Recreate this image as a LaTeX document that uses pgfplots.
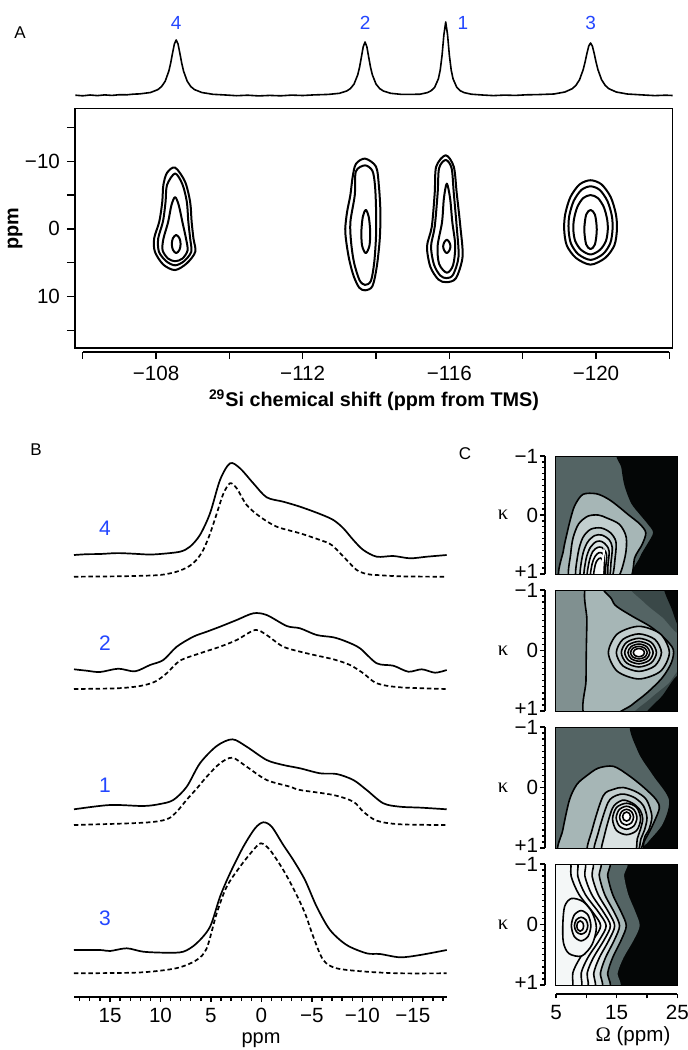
\documentclass[border=0pt]{standalone}
\usepackage{fontspec}
\setmainfont{Liberation Sans}
\newfontfamily\grk{Liberation Serif}
\usepackage{pgfplots}
\pgfplotsset{compat=1.18}

\definecolor{lblue}{RGB}{35,70,255}
\definecolor{cblack}{RGB}{4,6,6}
\definecolor{cdark}{RGB}{58,72,72}
\definecolor{cmed}{RGB}{84,100,100}
\definecolor{cmid}{RGB}{128,144,144}
\definecolor{clight}{RGB}{166,182,182}
\definecolor{clighter}{RGB}{194,206,206}
\definecolor{cpale}{RGB}{218,226,226}
\definecolor{cwhite}{RGB}{244,247,247}

\pgfplotsset{
  base/.style={scale only axis, anchor=north west,
    tick label style={font=\fontsize{10.3}{12}\selectfont},
    every tick/.style={black, line width=0.65pt},
    axis line style={line width=0.8pt},
    tick align=outside},
  cont/.style={black, line width=1pt, smooth cycle, line join=round},
  spec/.style={black, line width=0.85pt, smooth, tension=0.5, line join=round},
  dspec/.style={black, line width=0.85pt, smooth, tension=0.5, dash pattern=on 2.2pt off 1.4pt},
  cbox/.style={base, width=61pt, height=60.5pt, xmin=5, xmax=25, ymin=-1, ymax=1,
    y dir=reverse, xtick=\empty, ytick=\empty, clip=true,
    axis line style={line width=0.5pt}, axis on top},
  kax/.style={base, width=4pt, height=60.5pt, xmin=0, xmax=1, ymin=-1, ymax=1,
    y dir=reverse, axis y line*=left, axis x line=none,
    ytick={-1,0,1},
    yticklabels={\raisebox{-2.4pt}{−1},0,\raisebox{2.4pt}{+1}},
    yticklabel style={inner sep=0.6pt},
    minor y tick num=9,
    major tick length=2.6pt, minor tick length=1.6pt},
  cl/.style={black, line width=0.8pt, smooth cycle},
}
\tikzset{
  numlbl/.style={text=lblue, font=\fontsize{9.5}{11}\selectfont},
  numlblB/.style={text=lblue, font=\fontsize{10.5}{12}\selectfont},
  panel/.style={font=\fontsize{8.5}{10}\selectfont},
}

\begin{document}
\begin{tikzpicture}
\path[use as bounding box] (0,0) rectangle (343.5pt,-525pt);

% ===================== Panel A: projection =====================
\begin{axis}[base, at={(37.5pt,-5pt)}, width=298.85pt, height=48pt,
  xmin=-122.09, xmax=-105.79, x dir=reverse, ymin=-10, ymax=86,
  hide axis, clip=false]
\addplot[black, line width=0.8pt, line join=round] coordinates {
(-105.80,0.8) (-106.00,0.2) (-106.20,1.0) (-106.40,0.4) (-106.60,1.1)
(-106.80,0.6) (-107.00,1.3) (-107.20,1.2) (-107.40,1.9) (-107.55,2.1)
(-107.85,3.5) (-108.05,6.4) (-108.15,9.4) (-108.25,14.8) (-108.35,25)
(-108.40,33) (-108.45,42.8) (-108.50,52) (-108.55,56) (-108.60,52)
(-108.65,42.8) (-108.70,33) (-108.75,25) (-108.85,14.8) (-108.95,9.4)
(-109.05,6.4) (-109.25,3.5) (-109.55,1.7) (-109.90,1.0) (-110.20,0.3)
(-110.50,0.8) (-110.80,0.1) (-111.10,0.6) (-111.40,0.2) (-111.70,0.9)
(-112.00,0.5) (-112.30,1.1) (-112.70,1.6) (-113.00,2.7) (-113.20,5.0)
(-113.30,7.4) (-113.40,11.9) (-113.50,21.1) (-113.55,28.7) (-113.60,38.8)
(-113.65,49.2) (-113.70,54) (-113.75,49.2) (-113.80,38.8) (-113.85,28.7)
(-113.90,21.1) (-114.00,11.9) (-114.10,7.4) (-114.20,5.0) (-114.40,2.7)
(-114.70,1.6) (-114.90,1.6) (-115.20,1.8) (-115.40,3.4) (-115.50,5.2)
(-115.60,8.8) (-115.70,17.2) (-115.75,25.9) (-115.80,40.5) (-115.85,61.3)
(-115.90,74) (-115.95,61.3) (-116.00,40.5) (-116.05,25.9) (-116.10,17.2)
(-116.20,8.8) (-116.30,5.2) (-116.40,3.4) (-116.60,1.8) (-116.90,1.0)
(-117.20,0.4) (-117.50,0.9) (-117.80,0.6) (-118.10,1.2) (-118.40,1.4)
(-118.85,2.0) (-119.15,4.0) (-119.35,7.3) (-119.45,10.6) (-119.55,16.3)
(-119.65,26.5) (-119.70,33.9) (-119.75,42.4) (-119.80,49.9) (-119.85,53)
(-119.90,49.9) (-119.95,42.4) (-120.00,33.9) (-120.05,26.5) (-120.15,16.3)
(-120.25,10.6) (-120.35,7.3) (-120.55,4.0) (-120.85,2.0) (-121.35,0.9)
(-121.60,0.4) (-121.90,0.8) (-122.09,0.5)};
\node[numlbl] at (axis cs:-108.55,73.3) {4};
\node[numlbl] at (axis cs:-113.70,73.3) {2};
\node[numlbl] at (axis cs:-116.37,73.3) {1};
\node[numlbl] at (axis cs:-119.85,73.3) {3};
\end{axis}

% ===================== Panel A: 2D correlation =====================
\begin{axis}[base, at={(37.5pt,-54.15pt)}, width=298.85pt, height=119.7pt,
  xmin=-122.09, xmax=-105.79, x dir=reverse,
  ymin=-17.85, ymax=17.6, y dir=reverse,
  xtick=\empty, ytick={-15,-10,...,15}, yticklabels={,−10,,0,,10,},
  ytick pos=left, major tick length=4pt]
% site 4
\addplot[cont] coordinates {(-108.52,-9.07) (-108.79,-7.0) (-108.93,-4.0) (-108.97,-1.1) (-109.02,1.4) (-109.07,3.4) (-108.84,5.1) (-108.52,6.1) (-108.2,5.3) (-107.97,3.4) (-107.95,1.4) (-108.09,-1.1) (-108.17,-4.0) (-108.2,-6.5) (-108.3,-8.3)};
\addplot[cont] coordinates {(-108.52,-8.2) (-108.72,-6.6) (-108.84,-4) (-108.88,-1.1) (-108.93,1.4) (-108.96,3.4) (-108.76,4.8) (-108.52,5.4) (-108.28,4.8) (-108.08,3.4) (-108.06,1.4) (-108.19,-1.1) (-108.26,-4) (-108.30,-6.5)};
\addplot[cont] coordinates {(-108.52,-4.7) (-108.62,-3.5) (-108.72,-1) (-108.82,1.5) (-108.86,3.2) (-108.72,4.4) (-108.52,4.8) (-108.33,4.4) (-108.18,3.2) (-108.2,1.5) (-108.33,-1) (-108.42,-3.5)};
\addplot[cont] coordinates {(-108.55,0.9) (-108.64,1.4) (-108.67,2.25) (-108.64,3.1) (-108.55,3.6) (-108.46,3.1) (-108.43,2.25) (-108.46,1.4)};
% site 2
\addplot[cont] coordinates {(-113.70,-10.4) (-114.0,-9.2) (-114.08,-6.2) (-114.12,-2.3) (-114.1,1.6) (-114.02,5.6) (-113.9,8.5) (-113.70,9.1) (-113.54,8.7) (-113.39,7.0) (-113.27,4.6) (-113.19,2.0) (-113.16,0) (-113.21,-2.5) (-113.3,-5.0) (-113.36,-7.6) (-113.45,-9.6)};
\addplot[cont] coordinates {(-113.70,-9.4) (-113.9,-8.6) (-113.97,-6.5) (-114.0,-3) (-114.0,1) (-113.95,5) (-113.86,7.7) (-113.70,8.3) (-113.55,7.6) (-113.4,5) (-113.32,2) (-113.3,-1) (-113.42,-5) (-113.45,-8.5)};
\addplot[cont] coordinates {(-113.72,-2.8) (-113.80,-1.8) (-113.84,0.4) (-113.82,2.5) (-113.72,3.6) (-113.62,2.5) (-113.60,0.4) (-113.64,-1.8)};
% site 1
\addplot[cont] coordinates {(-115.9,-10.9) (-116.12,-9.2) (-116.2,-5.3) (-116.3,-0.3) (-116.36,4.1) (-116.18,7.3) (-115.92,7.9) (-115.7,7.5) (-115.48,5.6) (-115.39,2.6) (-115.52,-0.3) (-115.6,-5.3) (-115.64,-9.2)};
\addplot[cont] coordinates {(-115.9,-10.2) (-116.06,-9.0) (-116.12,-5.3) (-116.2,-0.3) (-116.25,4.1) (-116.1,6.8) (-115.92,7.3) (-115.75,6.9) (-115.58,5.3) (-115.5,2.6) (-115.6,-0.3) (-115.68,-5.3) (-115.72,-9.0)};
\addplot[cont] coordinates {(-115.93,-6.7) (-116.02,-4.5) (-116.08,-1) (-116.16,2.5) (-116.1,5.4) (-115.93,6.5) (-115.72,5.2) (-115.68,2.5) (-115.8,-1) (-115.85,-4.5)};
\addplot[cont] coordinates {(-115.93,1.6) (-116.0,2.0) (-116.03,2.6) (-116.0,3.2) (-115.93,3.6) (-115.86,3.2) (-115.83,2.6) (-115.86,2.0)};
% site 3
\addplot[cont] coordinates {(-119.85,-7.2) (-120.15,-6.58) (-120.40,-4.70) (-120.54,-2.20) (-120.57,0.05) (-120.50,2.43) (-120.25,4.30) (-119.85,5.30) (-119.45,4.30) (-119.20,2.43) (-119.13,0.05) (-119.16,-2.20) (-119.30,-4.70) (-119.55,-6.58)};
\addplot[cont] coordinates {(-119.85,-6.3) (-120.10,-5.76) (-120.31,-4.12) (-120.43,-1.94) (-120.45,0.02) (-120.39,2.09) (-120.19,3.73) (-119.85,4.6) (-119.51,3.73) (-119.31,2.09) (-119.25,0.02) (-119.27,-1.94) (-119.39,-4.12) (-119.60,-5.76)};
\addplot[cont] coordinates {(-119.85,-5.0) (-120.05,-4.56) (-120.21,-3.24) (-120.30,-1.48) (-120.32,0.10) (-120.27,1.78) (-120.11,3.10) (-119.85,3.8) (-119.59,3.10) (-119.43,1.78) (-119.38,0.10) (-119.40,-1.48) (-119.49,-3.24) (-119.65,-4.56)};
\addplot[cont] coordinates {(-119.85,-2.8) (-119.97,-2.1) (-120.02,0.1) (-119.97,2.3) (-119.85,3.0) (-119.73,2.3) (-119.68,0.1) (-119.73,-2.1)};
\end{axis}

% x axis of the 2D map
\begin{axis}[base, anchor=south west, at={(41.35pt,-175.85pt)}, width=293.3pt, height=10pt,
  xmin=-122, xmax=-106, x dir=reverse, ymin=0, ymax=1,
  axis x line*=bottom, axis y line=none,
  xtick={-122,-120,...,-106}, xticklabels={,−120,,−116,,−112,,−108,},
  major tick length=3.5pt]
\end{axis}

\node[panel] at (10pt,-16.5pt) {A};
\node[rotate=90, font=\bfseries\fontsize{9.9}{11}\selectfont] at (7.5pt,-114.5pt) {ppm};
\node[font=\bfseries\fontsize{9.9}{11}\selectfont] at (187pt,-200pt) {\textsuperscript{29}Si chemical shift (ppm from TMS)};

% ===================== Panel B: slices =====================
\begin{axis}[base, anchor=south west, at={(37pt,-498.35pt)}, width=186.35pt, height=275pt,
  xmin=-18.36, xmax=18.57, x dir=reverse, ymin=0, ymax=550,
  axis x line*=bottom, axis y line=none, clip=false,
  xtick={-15,-10,...,15}, xticklabels={−15,−10,−5,0,5,10,15},
  minor xtick={-18,-17,...,18},
  major tick length=2.4pt, minor tick length=2.2pt]
% site 4
\addplot[spec] coordinates {(18.57,441.7) (17.3,442.5) (15.99,442.7) (14.3,443.6) (12.70,443.0) (11.2,442.2) (10.05,442.7) (8.07,445.0) (7.08,450.0) (6.09,461.7) (5.09,483.4) (4.10,516.7) (3.11,533.4) (2.12,528.4) (0.80,513.4) (-0.52,499.4) (-2.17,495.0) (-3.83,490.0) (-5.81,482.7) (-7.13,476.7) (-8.12,468.4) (-9.11,456.7) (-10.10,446.7) (-11.43,440.0) (-13.07,440.7) (-14.73,438.4) (-16.38,440.0) (-18.36,441.7)};
\addplot[dspec] coordinates {(18.57,420) (15,420.3) (12.7,420.7) (10.05,421.7) (8.4,425) (7.24,430) (6.42,437) (5.75,447) (5.09,463) (4.43,483) (3.77,503) (3.11,513.4) (2.45,508.4) (1.46,491.7) (0.14,480) (-1.52,470) (-3.83,463.4) (-5.81,456.7) (-6.96,451.7) (-8.45,436.7) (-9.44,426.7) (-10.43,422.7) (-11.43,421.7) (-14,420.3) (-18.36,420)};
% site 2
\addplot[spec] coordinates {(18.57,327.4) (17.31,326) (15.99,324.7) (14.18,328) (12.53,325.4) (11.04,331.7) (9.72,336.7) (8.39,350) (6.75,360) (5.42,365) (4.10,370) (2.45,376.7) (0.80,383.4) (-0.52,381.7) (-2.51,370.7) (-3.83,368.4) (-5.48,361.7) (-7.13,359.4) (-8.45,355) (-9.77,348.4) (-11.43,333.4) (-13.07,331) (-14.56,325) (-15.89,327.4) (-17.21,324) (-18.36,326.7)};
\addplot[dspec] coordinates {(18.57,307.7) (14.35,308.4) (12.03,310.7) (10.55,315) (9.39,323.4) (8.07,336) (6.09,343.4) (4.10,350) (2.45,356.7) (0.63,366.7) (-0.52,361.7) (-2.17,350) (-4.49,343.4) (-7.13,337.4) (-8.78,331.7) (-10.10,323.4) (-11.43,313.4) (-13.74,309.4) (-18.36,307.7)};
% site 1
\addplot[spec] coordinates {(18.57,187.4) (15.0,191.7) (11.70,190.7) (10.05,192.7) (8.73,196.7) (7.40,210) (6.09,233.4) (4.43,250.7) (2.88,257.4) (1.46,250) (-0.52,236.7) (-2.17,231.7) (-3.83,228.4) (-5.81,223.4) (-7.46,222.7) (-9.11,216.7) (-10.43,206.7) (-12.08,193.4) (-13.74,190) (-15.89,189) (-18.36,187.4)};
\addplot[dspec] coordinates {(18.57,171.7) (11.70,174) (9.39,177.4) (8.39,185) (7.40,197) (6.42,208) (5.42,220) (4.10,233.4) (2.88,239) (1.46,230) (-0.52,216.7) (-2.83,210) (-3.83,206.7) (-7.13,201.7) (-9.11,195) (-10.10,185) (-11.43,176) (-13.74,172.4) (-18.36,171.7)};
% site 3
\addplot[spec] coordinates {(18.57,46.7) (15.99,46.7) (15.0,45.7) (13.35,48.4) (11.70,45) (9.39,44) (7.74,45) (6.42,53.4) (5.09,70) (4.10,100) (3.11,123.4) (1.79,150) (0.63,168.4) (-0.19,174.4) (-1.02,170) (-2.17,151.7) (-3.16,136.7) (-4.32,116.7) (-5.48,90) (-6.80,66.7) (-8.45,51.7) (-10.43,43.4) (-11.75,42.7) (-13.74,39.4) (-15.72,41.7) (-18.36,46.7)};
\addplot[dspec] coordinates {(18.57,23.4) (12.70,24) (10.05,26) (8.07,29.4) (6.42,36.7) (5.42,48.4) (4.43,83.4) (3.44,110) (2.12,130) (0.80,146.7) (0.04,153.4) (-0.85,146.7) (-2.17,126.7) (-3.33,105) (-4.32,83.4) (-5.14,60) (-6.13,36.7) (-7.46,28.4) (-10.43,25) (-13.74,23.4) (-18.36,23.4)};
\end{axis}

\node[panel] at (18pt,-225pt) {B};
\node[numlblB] at (52.5pt,-264pt) {4};
\node[numlblB] at (52.5pt,-321.5pt) {2};
\node[numlblB] at (52.5pt,-392.5pt) {1};
\node[numlblB] at (52.5pt,-459pt) {3};
\node[font=\fontsize{10}{12}\selectfont] at (130.5pt,-520pt) {ppm};

% ===================== Panel C: Omega-kappa maps =====================
% site 4
\begin{axis}[cbox, at={(277.75pt,-228pt)}, height=59pt]
\addplot[fill=cmed, draw=none] coordinates {(4,-1.3) (26,-1.3) (26,1.3) (4,1.3)} -- cycle;
\addplot[fill=cblack, draw=none, smooth cycle] coordinates {(15.5,-1.1) (15.8,-0.8) (16.3,-0.5) (17.4,-0.2) (18.9,0.0) (20.1,0.15) (21.0,0.3) (20.0,0.5) (18.8,0.72) (17.6,1.1) (26,1.2) (26,-1.2)};
\addplot[cl, fill=clight] coordinates {(5.7,1.1) (6.3,0.6) (6.8,0.35) (7.5,0.05) (8.2,-0.17) (9.5,-0.35) (11.7,-0.36) (13.5,-0.28) (15.0,-0.17) (17.0,0.0) (18.8,0.15) (19.8,0.3) (19.2,0.5) (18.0,0.72) (17.0,1.1) (11.3,1.3)};
\addplot[cl, fill=clighter] coordinates {(7.3,1.1) (7.5,0.65) (7.9,0.38) (8.8,0.15) (10.3,0.02) (12.0,0.0) (13.4,0.05) (15.5,0.16) (16.6,0.38) (16.4,0.71) (15.0,1.1) (11.2,1.3)};
\addplot[cl, fill=clighter] coordinates {(8.4,1.1) (8.7,0.65) (9.5,0.38) (10.8,0.24) (12.5,0.22) (14.0,0.3) (14.9,0.45) (14.8,0.7) (14.1,1.1) (11.2,1.3)};
\addplot[cl, fill=cpale] coordinates {(9.1,1.1) (9.4,0.7) (10.2,0.47) (11.4,0.35) (12.6,0.34) (13.8,0.42) (14.3,0.55) (14.1,0.8) (13.7,1.1) (11.4,1.3)};
\addplot[cl, fill=cpale] coordinates {(9.7,1.1) (10.0,0.75) (10.7,0.55) (11.7,0.45) (12.6,0.45) (13.4,0.52) (13.8,0.62) (13.6,0.85) (13.4,1.1) (11.5,1.3)};
\addplot[cl, fill=cwhite] coordinates {(10.2,1.1) (10.5,0.8) (11.1,0.62) (11.9,0.55) (12.6,0.55) (13.2,0.62) (13.4,0.72) (13.2,0.9) (13.1,1.1) (11.7,1.3)};
\addplot[cl, fill=cwhite] coordinates {(10.7,1.1) (11.0,0.83) (11.5,0.7) (12.1,0.64) (12.7,0.65) (13.0,0.74) (12.9,1.1) (11.8,1.3)};
\addplot[cl, fill=cwhite] coordinates {(11.2,1.1) (11.5,0.85) (11.9,0.76) (12.4,0.73) (12.8,0.8) (12.7,1.1) (12.0,1.3)};
\addplot[fill=white, draw=none] coordinates {(12.4,1.0) (12.6,0.75) (12.9,0.55) (13.1,0.6) (12.9,0.8) (12.8,1.0)} -- cycle;
\end{axis}

% site 2
\begin{axis}[cbox, at={(277.75pt,-295pt)}]
\addplot[fill=cmid, draw=none] coordinates {(4,-1.3) (26,-1.3) (26,1.3) (4,1.3)} -- cycle;
\addplot[cl, fill=clight, smooth cycle] coordinates {(10.25,-1.1) (10.15,-0.5) (10.05,0) (10.0,0.5) (9.95,1.1) (18,1.3) (26,1.2) (26,-1.2) (18,-1.3)};
\addplot[cl, fill=cmed] coordinates {(13.3,-1.1) (14.2,-0.85) (15.0,-0.73) (17.7,-0.56) (20.5,-0.40) (22.7,-0.22) (24.3,-0.02) (24.0,0.2) (22.5,0.45) (20.0,0.7) (17.5,0.9) (15.3,1.1) (26,1.2) (26,-1.2)};
\addplot[fill=cdark, draw=none, smooth cycle] coordinates {(17.2,-1.1) (19.5,-0.8) (22.5,-0.55) (25.5,-0.3) (26,-1.2)};
\addplot[fill=cdark, draw=none, smooth cycle] coordinates {(17.7,1.1) (20.5,0.8) (23.5,0.55) (25.5,0.35) (26,1.2)};
\addplot[fill=cblack, draw=none, smooth cycle] coordinates {(22.7,-1.1) (24.0,-0.7) (25.4,-0.4) (26,-1.2)};
\addplot[fill=cblack, draw=none, smooth cycle] coordinates {(19.7,1.1) (22.5,0.75) (25.3,0.42) (26,1.2)};
\addplot[cl, fill=clighter] coordinates {(23.67,0.035) (22.21,0.343) (18.67,0.47) (15.13,0.343) (13.67,0.035) (15.13,-0.273) (18.67,-0.40) (22.21,-0.273)};
\addplot[cl, fill=clighter] coordinates {(22.37,0.035) (21.29,0.254) (18.67,0.345) (16.05,0.254) (14.97,0.035) (16.05,-0.184) (18.67,-0.275) (21.29,-0.184)};
\addplot[cl, fill=cpale] coordinates {(21.55,.035) (20.71,.203) (18.67,.272) (16.63,.203) (15.79,.035) (16.63,-.133) (18.67,-.202) (20.71,-.133)};
\addplot[cl, fill=cpale] coordinates {(21.0,.035) (20.32,.166) (18.67,.22) (17.02,.166) (16.34,.035) (17.02,-.096) (18.67,-.15) (20.32,-.096)};
\addplot[cl, fill=cwhite] coordinates {(20.46,.035) (19.94,.135) (18.67,.177) (17.40,.135) (16.88,.035) (17.40,-.065) (18.67,-.107) (19.94,-.065)};
\addplot[cl, fill=cwhite] coordinates {(20.04,.035) (19.64,.109) (18.67,.139) (17.70,.109) (17.30,.035) (17.70,-.039) (18.67,-.069) (19.64,-.039)};
\addplot[cl, fill=white] coordinates {(19.58,.035) (19.31,.083) (18.67,.103) (18.03,.083) (17.76,.035) (18.03,-.013) (18.67,-.033) (19.31,-.013)};
\end{axis}

% site 1
\begin{axis}[cbox, at={(277.75pt,-363.5pt)}]
\addplot[fill=cmed, draw=none] coordinates {(4,-1.3) (26,-1.3) (26,1.3) (4,1.3)} -- cycle;
\addplot[fill=cblack, draw=none, smooth cycle] coordinates {(17.5,-1.1) (18.5,-0.6) (21.0,-0.2) (23.6,0.2) (22.6,0.6) (20.2,0.9) (18.8,1.1) (26,1.2) (26,-1.2)};
\addplot[cl, fill=clight] coordinates {(5.6,1.1) (6.2,0.7) (7.3,0.2) (8.5,-0.05) (10.05,-0.19) (12.0,-0.32) (14.5,-0.35) (17.0,-0.2) (19.5,0.0) (21.5,0.2) (22.0,0.35) (20.8,0.65) (19.5,0.9) (18.8,1.1) (12,1.3)};
\addplot[cl, fill=clighter] coordinates {(10.3,1.1) (11.0,0.7) (12.8,0.14) (14.5,0.03) (16.1,0.0) (18.2,0.07) (19.9,0.2) (20.8,0.47) (20.3,0.7) (19.7,0.8) (18.5,1.1) (14.4,1.3)};
\addplot[cl, fill=clighter] coordinates {(11.4,1.1) (12.0,0.75) (13.6,0.25) (15.0,0.13) (16.3,0.11) (18.0,0.17) (19.4,0.3) (20.0,0.5) (19.6,0.7) (19.0,0.85) (18.3,1.1) (14.8,1.3)};
\addplot[cl, fill=cpale] coordinates {(12.6,1.1) (13.0,0.8) (14.3,0.35) (15.5,0.23) (16.4,0.21) (17.8,0.27) (18.9,0.38) (19.3,0.52) (18.9,0.7) (18.4,0.85) (18.0,1.1) (15.3,1.3)};
\addplot[cl, fill=cpale] coordinates {(18.95,0.52) (18.3,0.71) (16.65,0.78) (15.0,0.71) (14.35,0.52) (15.0,0.33) (16.65,0.26) (18.3,0.33)};
\addplot[cl, fill=cwhite] coordinates {(18.35,0.5) (17.85,0.634) (16.65,0.69) (15.45,0.634) (14.95,0.5) (15.45,0.366) (16.65,0.31) (17.85,0.366)};
\addplot[cl, fill=cwhite] coordinates {(17.8,.49) (17.46,.582) (16.65,.62) (15.84,.582) (15.5,.49) (15.84,.398) (16.65,.36) (17.46,.398)};
\addplot[cl, fill=white] coordinates {(17.3,.48) (17.11,.533) (16.65,.555) (16.19,.533) (16.0,.48) (16.19,.427) (16.65,.405) (17.11,.427)};
\end{axis}

% site 3
\begin{axis}[cbox, at={(277.75pt,-432pt)}]
\addplot[fill=cblack, draw=none] coordinates {(4,-1.3) (26,-1.3) (26,1.3) (4,1.3)} -- cycle;
\addplot[fill=cmed, draw=none, smooth cycle] coordinates {(16.1,-1.1) (16.24,-0.8) (16.91,-0.5) (18.13,-0.2) (18.8,0.02) (17.85,0.25) (16.14,0.55) (15.19,0.8) (15.0,1.1) (4,1.3) (4,-1.3)};
\addplot[cl, fill=clight] coordinates {(13.4,-1.1) (13.56,-0.8) (14.36,-0.5) (15.8,-0.2) (16.6,0.02) (15.8,0.25) (14.36,0.55) (13.56,0.8) (13.4,1.1) (4,1.3) (4,-1.3)};
\addplot[cl, fill=cpale] coordinates {(12.0,-1.1) (12.18,-0.8) (13.05,-0.5) (14.63,-0.2) (15.5,0.02) (14.68,0.25) (13.19,0.55) (12.37,0.8) (12.2,1.1) (4,1.3) (4,-1.3)};
\addplot[cl, fill=cwhite] coordinates {(10.8,-1.1) (11.0,-0.8) (11.97,-0.5) (13.73,-0.2) (14.7,0.02) (13.8,0.25) (12.18,0.55) (11.28,0.8) (11.1,1.1) (4,1.3) (4,-1.3)};
\addplot[cl, fill=cwhite] coordinates {(9.6,-1.1) (9.82,-0.8) (10.92,-0.5) (12.9,-0.2) (14.0,0.02) (13.0,0.25) (11.2,0.55) (10.2,0.8) (10.0,1.1) (4,1.3) (4,-1.3)};
\addplot[cl, fill=cwhite] coordinates {(8.4,-1.1) (8.65,-0.8) (9.87,-0.5) (12.08,-0.2) (13.3,0.02) (12.23,0.25) (10.29,0.55) (9.22,0.8) (9.0,1.1) (4,1.3) (4,-1.3)};
\addplot[cl, fill=cwhite] coordinates {(7.3,-1.1) (7.56,-0.8) (8.83,-0.5) (11.13,-0.2) (12.4,0.02) (11.2,0.25) (9.04,0.55) (7.84,0.8) (7.6,1.1) (4,1.3) (4,-1.3)};
\addplot[cl, fill=cwhite] coordinates {(11.7,0.05) (11.0,0.33) (9.3,0.52) (7.2,0.48) (6.3,0.3) (6.2,0.0) (6.5,-0.3) (7.6,-0.43) (9.5,-0.38) (11.0,-0.2)};
\addplot[cl, fill=cwhite] coordinates {(10.8,0.02) (10.33,0.197) (9.2,0.27) (8.07,0.197) (7.6,0.02) (8.07,-0.157) (9.2,-0.23) (10.33,-0.157)};
\addplot[cl, fill=cwhite] coordinates {(10.3,0.02) (9.98,0.119) (9.2,0.16) (8.42,0.119) (8.1,0.02) (8.42,-0.079) (9.2,-0.12) (9.98,-0.079)};
\addplot[cl, fill=white] coordinates {(9.6,0.025) (9.44,0.085) (9.05,0.11) (8.66,0.085) (8.5,0.025) (8.66,-0.035) (9.05,-0.06) (9.44,-0.035)};
\end{axis}

% kappa axes
\begin{axis}[kax, at={(272.5pt,-228pt)}, height=59pt]\end{axis}
\begin{axis}[kax, at={(272.5pt,-295pt)}]\end{axis}
\begin{axis}[kax, at={(272.5pt,-363.5pt)}]\end{axis}
\begin{axis}[kax, at={(272.5pt,-432pt)}]\end{axis}

% Omega axis
\begin{axis}[base, anchor=south west, at={(278pt,-497pt)}, width=60.65pt, height=5pt,
  xmin=5, xmax=25, ymin=0, ymax=1, axis x line*=bottom, axis y line=none,
  xtick={5,10,...,25}, xticklabels={5,,15,,25}, major tick length=2.2pt]
\end{axis}

\node[panel] at (232.5pt,-227pt) {C};
\foreach \yy in {257.5,325.25,393.75,462.25}
  \node[font=\grk\fontsize{10.3}{12}\selectfont] at (251.5pt,-\yy pt) {κ};
\node[font=\fontsize{10.3}{12}\selectfont] at (316.5pt,-518pt) {{\grk Ω} (ppm)};
\end{tikzpicture}
\end{document}
